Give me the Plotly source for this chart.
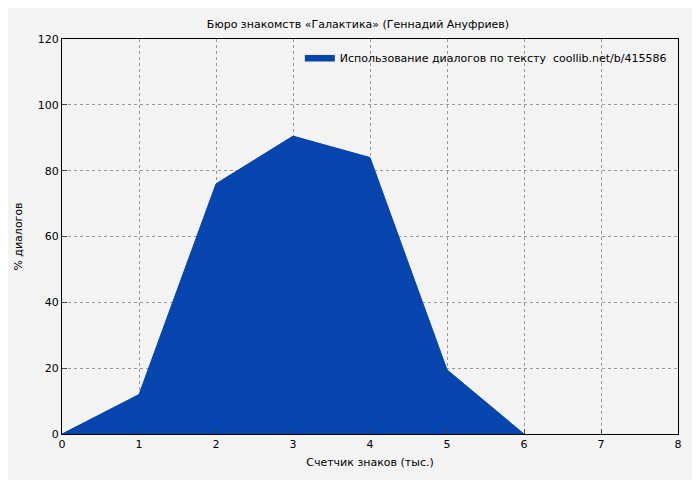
import plotly.graph_objects as go

x_vals = [0, 1, 2, 3, 4, 5, 6]
y_vals = [0, 12, 76, 90.5, 84, 19.5, 0]
x_ticks = [0, 1, 2, 3, 4, 5, 6, 7, 8]
y_ticks = [0, 20, 40, 60, 80, 100, 120]

fig = go.Figure()
fig.add_trace(go.Scatter(
    x=x_vals, y=y_vals, mode="lines", fill="tozeroy",
    line=dict(color="#0645ad", width=1), fillcolor="#0645ad",
    name="Использование диалогов по тексту  coollib.net/b/415586",
))
font = dict(family="DejaVu Sans", size=11, color="#000")
fig.update_layout(
    width=700, height=480, paper_bgcolor="#f3f3f3", plot_bgcolor="#f3f3f3",
    margin=dict(l=54, r=30, t=31, b=54, autoexpand=False),
    font=font,
    title=dict(text="Бюро знакомств «Галактика» (Геннадий Ануфриев)", x=0.5, y=0.975, xanchor="center", font=dict(size=11)),
    showlegend=True,
    legend=dict(x=0.99, y=0.99, xanchor="right", yanchor="top", bgcolor="rgba(0,0,0,0)", font=dict(size=11)),
    xaxis=dict(range=[0, 8], tickvals=x_ticks, showgrid=True, gridcolor="#999", griddash="dot",
               showline=True, linecolor="#000", mirror=True, ticks="inside", zeroline=False,
               automargin=False,
               title=dict(text="Счетчик знаков (тыс.)", standoff=8, font=dict(size=11))),
    yaxis=dict(range=[0, 120], tickvals=y_ticks, showgrid=True, gridcolor="#999", griddash="dot",
               showline=True, linecolor="#000", mirror=True, ticks="inside", zeroline=False,
               automargin=False,
               title=dict(text="% диалогов", standoff=12, font=dict(size=11))),
)
fig.write_html("out.html")
